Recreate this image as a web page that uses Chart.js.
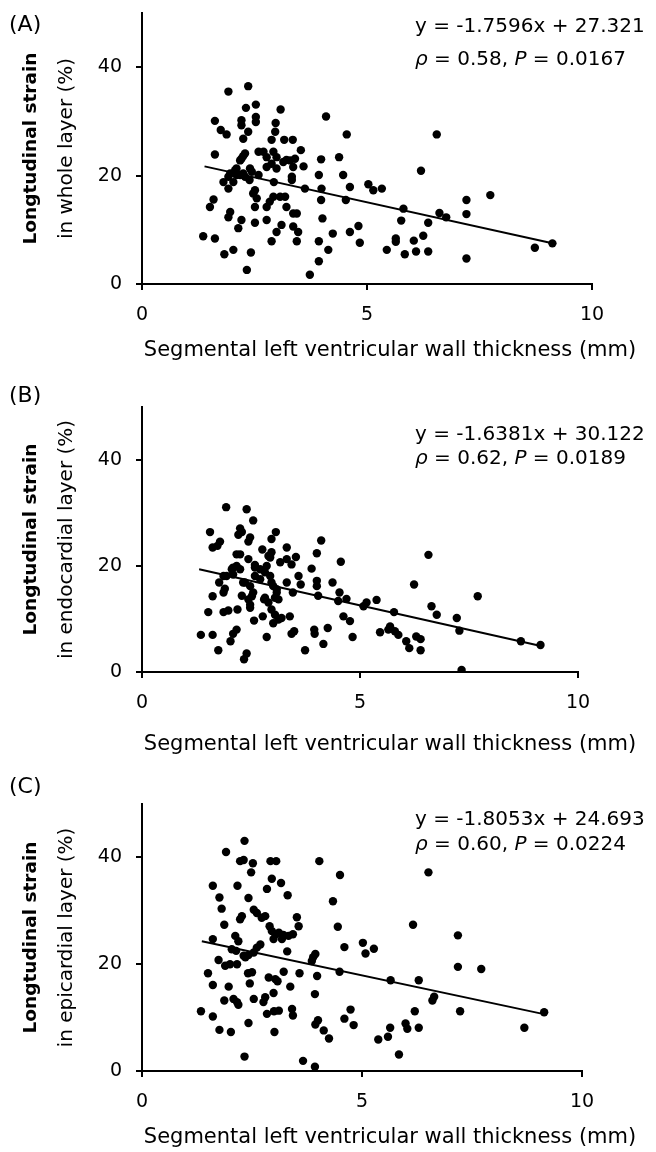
<!DOCTYPE html>
<html>
<head>
<meta charset="utf-8">
<script src="https://cdn.jsdelivr.net/npm/chart.js@4.4.1/dist/chart.umd.min.js"></script>
<style>
  body { margin: 0; background: #fff; }
  #page { position: relative; width: 656px; height: 1152px; background: #fff; }
  .panel { position: absolute; left: 0; width: 656px; }
</style>
</head>
<body>
<div id="page">
  <div class="panel" style="top:0px"><canvas id="chartA" width="656" height="372"></canvas></div>
  <div class="panel" style="top:372px"><canvas id="chartB" width="656" height="386"></canvas></div>
  <div class="panel" style="top:758px"><canvas id="chartC" width="656" height="394"></canvas></div>
</div>
<script>
// ticks
const xTicks = [0, 5, 10];
const yTicks = [0, 20, 40];

// texts
const panelLabels = ['(A)', '(B)', '(C)'];
const yTitles = [
  ['Longtudinal strain', 'in whole layer (%)'],
  ['Longtudinal strain', 'in endocardial layer (%)'],
  ['Longtudinal strain', 'in epicardial layer (%)']
];
const xTitle = 'Segmental left ventricular wall thickness (mm)';
const equations = ['y = -1.7596x + 27.321', 'y = -1.6381x + 30.122', 'y = -1.8053x + 24.693'];
const rhoValues = ['0.58', '0.62', '0.60'];
const pValues = ['0.0167', '0.0189', '0.0224'];

// (A) whole layer: [thickness mm, strain %]
const wholeLayer = [
  [1.92,35.5],[2.36,36.5],[2.31,32.5],[2.53,33.1],[3.08,32.2],[4.09,30.9],[1.62,30.1],[2.21,30.2],
  [2.21,29.3],[2.53,30.8],[2.53,29.9],[1.75,28.4],[1.88,27.6],[2.36,28.1],[2.25,26.8],[2.97,29.7],
  [2.96,28.1],[2.88,26.6],[3.16,26.6],[3.35,26.6],[4.55,27.6],[6.55,27.6],[1.62,23.9],[2.18,22.8],
  [2.25,23.6],[2.59,24.4],[2.70,24.4],[2.77,23.4],[2.92,24.4],[2.99,23.4],[3.21,22.9],[3.40,23.1],
  [3.53,24.7],[3.59,21.7],[3.98,23.0],[4.38,23.4],[2.10,21.3],[1.96,20.4],[2.10,20.1],[2.25,20.4],
  [2.40,21.3],[1.81,18.8],[1.92,17.6],[2.39,19.2],[2.59,20.1],[2.77,21.6],[2.88,22.2],[2.99,21.3],
  [3.14,22.5],[3.29,22.8],[3.36,21.6],[3.33,19.8],[3.33,19.2],[2.93,18.8],[3.62,17.6],[3.93,20.1],
  [3.99,17.6],[4.47,20.1],[4.62,17.9],[5.03,18.4],[5.14,17.3],[5.33,17.6],[6.20,20.9],[2.47,16.7],
  [2.55,15.8],[2.51,14.2],[2.77,14.2],[2.84,15.2],[2.92,16.1],[3.07,16.1],[3.18,16.1],[3.21,14.2],
  [1.59,15.6],[1.51,14.2],[1.96,13.3],[1.92,12.3],[2.21,11.8],[2.14,10.3],[2.51,11.3],[2.77,11.8],
  [2.99,9.6],[3.10,10.9],[3.36,13.0],[3.44,13.0],[3.36,10.6],[3.47,9.6],[3.44,7.9],[2.88,7.9],
  [3.98,15.5],[4.53,15.5],[4.01,12.1],[5.81,13.9],[5.76,11.7],[6.36,11.3],[6.61,13.1],[6.76,12.3],
  [7.21,15.5],[7.21,12.9],[7.74,16.4],[3.93,7.9],[4.14,6.3],[3.93,4.2],[3.73,1.7],[4.24,9.3],
  [4.62,9.6],[4.81,10.7],[4.84,7.6],[1.36,8.8],[1.62,8.4],[1.83,5.5],[2.03,6.3],[2.42,5.8],
  [2.33,2.6],[5.44,6.3],[5.64,8.4],[5.64,7.8],[5.84,5.5],[6.04,8.0],[6.25,8.9],[6.09,6.0],
  [6.36,6.0],[7.21,4.7],[8.73,6.7],[9.12,7.5],[1.92,19.8],[2.07,21.0],[2.18,20.1],[2.29,19.8],
  [2.03,18.8],[2.44,20.7],[2.21,23.1],[2.29,24.1],[2.51,17.3]
];

// (B) endocardial layer
const endoLayer = [
  [1.93,31.1],[2.40,30.7],[2.55,28.6],[1.56,26.4],[2.25,27.1],[2.21,25.9],[2.29,26.4],[2.48,25.4],
  [2.44,24.6],[1.79,24.6],[1.62,23.5],[1.73,23.8],[3.07,26.4],[2.97,25.1],[4.11,24.8],[2.76,23.1],
  [2.17,22.2],[2.25,22.2],[2.97,22.6],[2.94,21.6],[3.32,23.5],[3.53,21.7],[4.01,22.4],[4.56,20.8],
  [2.44,21.3],[2.59,20.2],[2.09,19.7],[2.17,20.0],[2.25,19.4],[2.71,19.4],[2.86,20.0],[3.17,20.7],
  [3.32,21.3],[3.43,20.3],[2.09,18.4],[1.94,18.1],[1.87,18.1],[1.77,16.9],[3.89,19.5],[2.59,18.1],
  [2.71,17.5],[2.94,18.1],[3.59,18.1],[2.32,16.9],[2.48,16.2],[3.01,16.2],[3.32,16.9],[3.64,16.5],
  [4.01,17.2],[4.01,16.2],[4.37,16.9],[1.90,15.7],[1.87,15.0],[1.62,14.3],[2.29,14.4],[2.44,13.7],
  [2.55,15.0],[2.82,14.0],[2.90,13.1],[3.09,15.0],[3.13,13.7],[3.46,15.0],[4.04,14.4],[4.53,15.0],
  [4.50,13.4],[4.69,13.8],[5.08,12.4],[5.15,13.1],[5.38,13.6],[1.52,11.3],[1.87,11.3],[1.98,11.6],
  [2.19,11.8],[2.48,12.1],[2.80,13.7],[2.97,11.8],[3.05,10.8],[3.01,9.2],[3.13,9.9],[3.20,10.2],
  [2.77,10.5],[2.57,9.7],[3.39,10.5],[4.62,10.5],[4.77,9.6],[1.35,7.0],[1.62,7.0],[2.17,8.0],
  [2.09,7.2],[2.03,5.8],[1.75,4.1],[2.40,3.5],[2.34,2.4],[2.86,6.6],[3.43,7.2],[3.49,7.7],
  [3.95,8.0],[3.96,7.2],[4.26,8.3],[4.16,5.3],[3.74,4.1],[4.83,6.6],[5.46,7.5],[5.65,8.0],
  [5.78,11.3],[5.69,8.6],[5.80,7.7],[5.88,7.0],[6.06,5.8],[6.13,4.5],[6.29,6.7],[6.39,6.2],
  [6.39,4.1],[6.24,16.5],[6.57,22.1],[6.64,12.4],[6.76,10.8],[7.22,10.2],[7.28,7.8],[7.33,0.4],
  [7.70,14.3],[8.69,5.8],[9.14,5.1],[2.90,21.9],[2.06,19.4],[2.36,16.9],[2.59,19.7],[2.82,18.8],
  [2.97,16.9],[3.09,15.6],[3.05,14.0],[2.52,14.3],[2.48,12.7]
];

// (C) epicardial layer
const epiLayer = [
  [2.33,43.1],[1.91,41.0],[2.23,39.3],[2.31,39.5],[2.52,38.9],[2.48,37.2],[2.92,39.3],[3.05,39.3],
  [4.03,39.3],[4.50,36.7],[2.95,36.0],[3.16,35.2],[1.61,34.7],[2.17,34.7],[2.84,34.1],[3.31,32.9],
  [1.76,32.5],[2.42,32.4],[1.81,30.4],[4.34,31.8],[2.54,30.2],[2.61,29.6],[2.72,28.7],[2.80,29.0],
  [2.27,29.0],[2.23,28.4],[3.52,28.8],[1.87,27.4],[2.90,27.1],[2.95,26.2],[3.03,25.6],[3.11,25.9],
  [3.21,25.5],[3.33,25.3],[3.43,25.6],[3.56,27.1],[4.45,27.0],[2.99,24.7],[3.18,24.7],[1.61,24.7],
  [2.12,25.3],[2.19,24.3],[4.60,23.2],[5.02,24.0],[5.27,22.9],[5.08,22.0],[2.69,23.7],[2.61,23.1],
  [2.54,22.2],[2.42,21.7],[2.31,21.6],[2.35,21.3],[2.04,22.8],[2.14,22.5],[3.30,22.4],[1.74,20.8],
  [1.89,19.7],[2.00,20.0],[2.16,20.0],[3.89,21.3],[3.94,21.9],[3.86,20.6],[4.49,18.6],[1.50,18.3],
  [1.61,16.1],[2.41,18.3],[2.50,18.5],[2.45,16.4],[3.22,18.6],[3.58,18.3],[3.98,17.8],[2.88,17.5],
  [3.03,17.2],[3.08,16.8],[3.37,15.8],[1.97,15.8],[3.93,14.4],[1.87,13.2],[2.08,13.5],[2.16,12.9],
  [2.19,12.4],[2.54,13.5],[2.76,12.9],[2.80,13.8],[2.99,14.6],[2.84,10.7],[3.00,11.2],[3.11,11.3],
  [3.41,11.6],[3.43,10.4],[4.00,9.5],[3.94,8.7],[4.13,7.6],[4.25,6.1],[4.60,9.8],[4.81,8.6],
  [4.74,11.5],[1.34,11.2],[1.61,10.2],[1.76,7.7],[2.02,7.3],[2.42,9.0],[3.01,7.3],[2.33,2.7],
  [3.66,1.9],[3.93,0.8],[6.51,37.2],[6.16,27.4],[7.18,25.4],[7.18,19.5],[7.23,11.2],[5.65,17.0],
  [6.29,17.0],[6.60,13.2],[6.64,13.9],[6.20,11.2],[5.99,8.9],[6.03,7.9],[6.29,8.1],[5.37,5.9],
  [5.59,6.4],[5.64,8.1],[5.84,3.1],[7.71,19.1],[8.69,8.1],[9.14,11.0]
];

// regression lines as drawn (end points)
const wholeFit = [[1.39, 21.7], [9.12, 7.5]];
const endoFit = [[1.31, 19.4], [9.15, 4.9]];
const epiFit = [[1.36, 24.3], [9.16, 10.6]];

const FONT = '"DejaVu Sans", "Liberation Sans", sans-serif';
Chart.defaults.font.family = FONT;
Chart.defaults.color = '#000';

// plugin que dibuja los textos del panel
const panelText = {
  id: 'panelText',
  afterDraw(chart, args, o) {
    const ctx = chart.ctx;
    const area = chart.chartArea;
    ctx.save();
    ctx.fillStyle = '#000';
    ctx.textBaseline = 'middle';

    ctx.textAlign = 'left';
    ctx.font = '22px ' + FONT;
    ctx.fillText(o.label, 9, o.labelY);

    // y title (two lines, rotated)
    const cy = (area.top + area.bottom) / 2;
    ctx.save();
    ctx.translate(31, cy);
    ctx.rotate(-Math.PI / 2);
    ctx.textAlign = 'center';
    ctx.font = 'bold 18.5px ' + FONT;
    ctx.fillText(o.yTitle[0], 0, 0);
    ctx.font = '20px ' + FONT;
    ctx.fillText(o.yTitle[1], 0, 36);
    ctx.restore();

    // x title
    ctx.textAlign = 'center';
    ctx.font = '21px ' + FONT;
    ctx.fillText(xTitle, 390, o.xTitleY);

    // equation + stats
    ctx.textAlign = 'left';
    ctx.font = '20px ' + FONT;
    ctx.fillText(o.eq, 415, o.eqY[0]);
    const parts = [
      ['italic', '\u03C1'], ['normal', ' = ' + o.rho + ', '], ['italic', 'P'], ['normal', ' = ' + o.p]
    ];
    let x = 415;
    parts.forEach(([style, txt]) => {
      ctx.font = (style === 'italic' ? 'italic ' : '') + '20px ' + FONT;
      ctx.fillText(txt, x, o.eqY[1]);
      x += ctx.measureText(txt).width;
    });
    ctx.restore();
  }
};

function axisOpts(min, max, ticks, fitFn) {
  return {
    type: 'linear',
    min: min,
    max: max,
    afterBuildTicks: s => { s.ticks = ticks.map(v => ({ value: v })); },
    afterFit: s => {
      fitFn(s);
      s.paddingTop = 0; s.paddingBottom = 0; s.paddingLeft = 0; s.paddingRight = 0;
    },
    grid: { drawOnChartArea: false, drawTicks: true, tickLength: 6, color: '#000', lineWidth: 2 },
    border: { display: true, color: '#000', width: 2 },
    ticks: { color: '#000', font: { size: 19 }, padding: 14, maxRotation: 0 }
  };
}

function crearPanel(id, points, fit, i, cfg) {
  const canvas = document.getElementById(id);
  return new Chart(canvas, {
    type: 'scatter',
    data: {
      datasets: [{
        data: points.map(([x, y]) => ({ x, y })),
        pointRadius: 4.2,
        pointBackgroundColor: '#000',
        pointBorderWidth: 0,
        showLine: false
      }, {
        data: fit.map(([x, y]) => ({ x, y })),
        showLine: true,
        borderColor: '#000',
        borderWidth: 2,
        pointRadius: 0
      }]
    },
    options: {
      responsive: false,
      animation: false,
      devicePixelRatio: 1,
      layout: { padding: { top: cfg.plotTop, right: 656 - cfg.plotRight, left: 0, bottom: 0 } },
      scales: {
        x: axisOpts(0, 10, xTicks, s => { s.height = cfg.canvasH - cfg.plotBottom; }),
        y: axisOpts(0, 50, yTicks, s => { s.width = 142; })
      },
      plugins: {
        legend: { display: false },
        tooltip: { enabled: false },
        panelText: {
          label: panelLabels[i],
          yTitle: yTitles[i],
          eq: equations[i],
          rho: rhoValues[i],
          p: pValues[i],
          labelY: cfg.labelY,
          eqY: cfg.eqY,
          xTitleY: cfg.xTitleY
        }
      }
    },
    plugins: [panelText]
  });
}

crearPanel('chartA', wholeLayer, wholeFit, 0,
  { canvasH: 372, plotTop: 13, plotBottom: 284, plotRight: 592, labelY: 25, eqY: [27, 60], xTitleY: 351 });
crearPanel('chartB', endoLayer, endoFit, 1,
  { canvasH: 386, plotTop: 35, plotBottom: 300, plotRight: 578, labelY: 24, eqY: [63, 87], xTitleY: 373 });
crearPanel('chartC', epiLayer, epiFit, 2,
  { canvasH: 394, plotTop: 46, plotBottom: 313, plotRight: 582, labelY: 29, eqY: [62, 87], xTitleY: 380 });
</script>
</body>
</html>
